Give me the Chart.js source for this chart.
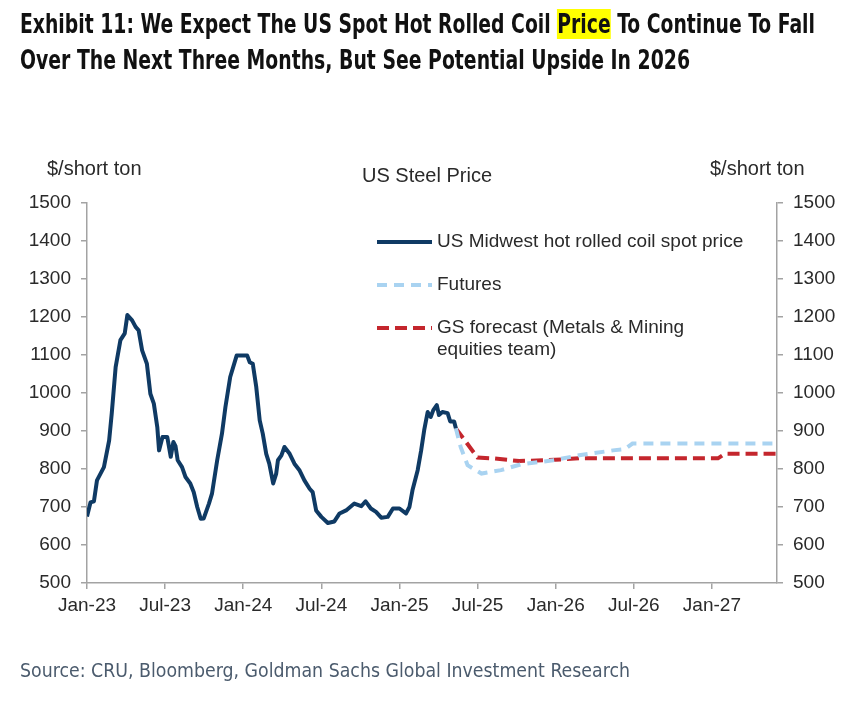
<!DOCTYPE html>
<html>
<head>
<meta charset="utf-8">
<script src="https://cdn.jsdelivr.net/npm/chart.js@4.4.1/dist/chart.umd.min.js"></script>
<style>
  html, body { margin: 0; padding: 0; background: #fff; }
  #wrap { position: relative; width: 848px; height: 703px; overflow: hidden; }
  #wrap canvas { position: absolute; left: 0; top: 0; }
  .txt { position: absolute; white-space: nowrap; transform-origin: 0 50%; }
  .head { font-family: "Liberation Sans Narrow", "DejaVu Sans Condensed", "Open Sans", sans-serif; font-weight: bold; font-size: 26px; color: #111; line-height: 32px; }
  .hl { background: #ffff00; }
  .src { font-family: "Liberation Sans Narrow", "DejaVu Sans Condensed", "Open Sans", sans-serif; font-size: 20px; color: #4b5b6d; line-height: 24px; }
  .lab { font-family: "Liberation Sans", Arial, sans-serif; font-size: 20px; color: #2a2a2a; line-height: 24px; }
</style>
</head>
<body>
<div id="wrap">
  <canvas id="steelChart" width="848" height="703"></canvas>
  <div class="txt head" data-w="795" style="left:20px;top:8px">Exhibit 11: We Expect The US Spot Hot Rolled Coil <span class="hl">Price</span> To Continue To Fall</div>
  <div class="txt head" data-w="670" style="left:20px;top:44px">Over The Next Three Months, But See Potential Upside In 2026</div>
  <div class="txt lab" style="left:47px;top:156px">$/short ton</div>
  <div class="txt lab" style="left:362px;top:163px">US Steel Price</div>
  <div class="txt lab" style="left:710px;top:156px">$/short ton</div>
  <div class="txt src" data-w="610" style="left:20px;top:658px">Source: CRU, Bloomberg, Goldman Sachs Global Investment Research</div>
</div>
<script>
// US Midwest HRC spot price ($/short ton)
const spotDates = [
  "2023-01-01", "2023-01-09", "2023-01-17", "2023-01-24", "2023-02-10", "2023-02-22", "2023-02-28",
  "2023-03-07", "2023-03-18", "2023-03-28", "2023-04-04", "2023-04-15", "2023-04-23", "2023-04-30",
  "2023-05-08", "2023-05-19", "2023-05-27", "2023-06-05", "2023-06-13", "2023-06-17", "2023-06-25",
  "2023-07-06", "2023-07-14", "2023-07-20", "2023-07-25", "2023-07-30", "2023-08-10", "2023-08-18",
  "2023-08-29", "2023-09-07", "2023-09-15", "2023-09-23", "2023-09-30", "2023-10-12", "2023-10-19",
  "2023-11-01", "2023-11-12", "2023-11-20", "2023-12-01", "2023-12-16", "2024-01-10", "2024-01-16",
  "2024-01-23", "2024-02-01", "2024-02-09", "2024-02-16", "2024-02-24", "2024-03-01", "2024-03-10",
  "2024-03-17", "2024-03-21", "2024-03-29", "2024-04-06", "2024-04-18", "2024-04-29", "2024-05-11",
  "2024-05-22", "2024-06-04", "2024-06-11", "2024-06-19", "2024-07-01", "2024-07-16", "2024-08-01",
  "2024-08-13", "2024-08-28", "2024-09-17", "2024-10-03", "2024-10-13", "2024-10-25", "2024-11-07",
  "2024-11-19", "2024-12-04", "2024-12-16", "2025-01-01", "2025-01-16", "2025-01-24", "2025-02-01",
  "2025-02-13", "2025-02-21", "2025-02-28", "2025-03-06", "2025-03-13", "2025-03-19", "2025-03-27",
  "2025-04-02", "2025-04-10", "2025-04-22", "2025-04-28", "2025-05-07", "2025-05-11"
]
const spotValues = [
  675, 712, 715, 770, 805, 875, 946,
  1068, 1139, 1157, 1205, 1191, 1174, 1165,
  1112, 1077, 998, 972, 910, 849, 884,
  884, 832, 871, 860, 823, 805, 779,
  762, 739, 700, 669, 670, 709, 735,
  823, 893, 963, 1042, 1099, 1099, 1081,
  1077, 1016, 928, 893, 840, 814, 762,
  788, 823, 836, 858, 840, 814, 796,
  770, 748, 739, 691, 674, 658, 662,
  683, 691, 709, 702, 715, 696, 687,
  672, 674, 696, 696, 683, 700, 744,
  797, 849, 902, 950, 937, 955, 968,
  942, 950, 947, 925, 925, 907
]

// Futures curve
const futuresDates = [
  "2025-05-11", "2025-05-22", "2025-06-08", "2025-07-10", "2025-08-25", "2025-10-10",
  "2025-12-25", "2026-02-25", "2026-05-13", "2026-06-10", "2026-06-28", "2027-06-01"
]
const futuresValues = [907, 858, 810, 788, 797, 812, 823, 836, 849, 852, 867, 867]

// GS forecast (Metals & Mining equities team)
const forecastDates = [
  "2025-05-11", "2025-07-01", "2025-08-06", "2025-10-07", "2025-12-08",
  "2026-02-25", "2026-07-01", "2027-01-15", "2027-02-01", "2027-06-01"
]
const forecastValues = [907, 830, 828, 821, 823, 828, 828, 828, 840, 840]

const yTicks = [500, 600, 700, 800, 900, 1000, 1100, 1200, 1300, 1400, 1500]
const legendLabels = [
  ["US Midwest hot rolled coil spot price"],
  ["Futures"],
  ["GS forecast (Metals & Mining", "equities team)"],
]

// months since Jan-23
function monthIndex(d) {
  const [y, m, day] = d.split("-").map(Number)
  return (y - 2023) * 12 + (m - 1) + (day - 1) / 30
}

function toPoints(dates, values) {
  return dates.map((d, i) => ({ x: monthIndex(d), y: values[i] }))
}

const AXIS = "#a3a3a3"
const TEXT = "#2a2a2a"
const FONT = { family: "'Liberation Sans', Arial, sans-serif", size: 19 }

// custom legend placed inside the plot, like the original
const legendPlugin = {
  id: "insideLegend",
  afterDraw(chart) {
    const ctx = chart.ctx
    const rows = [242, 285, 328]
    ctx.save()
    ctx.font = "19px 'Liberation Sans', Arial, sans-serif"
    ctx.fillStyle = TEXT
    ctx.textBaseline = "middle"
    chart.data.datasets.forEach((ds, i) => {
      const y = rows[i]
      ctx.beginPath()
      ctx.strokeStyle = ds.borderColor
      ctx.lineWidth = ds.borderWidth
      ctx.setLineDash(ds.borderDash || [])
      ctx.moveTo(377, y)
      ctx.lineTo(432, y)
      ctx.stroke()
      ctx.setLineDash([])
      legendLabels[i].forEach((t, j) => ctx.fillText(t, 437, y + j * 22))
    })
    ctx.restore()
  },
}

const yAxis = (position, width) => ({
  position,
  min: yTicks[0],
  max: yTicks[yTicks.length - 1],
  afterFit: (s) => { s.width = width },
  afterBuildTicks: (s) => { s.ticks = yTicks.map((v) => ({ value: v })) },
  border: { color: AXIS, width: 1.5 },
  grid: { drawOnChartArea: false, tickLength: 6, color: AXIS, lineWidth: 1.5 },
  ticks: { color: TEXT, font: FONT, padding: 10, callback: (v) => String(v) },
})

const ctx = document.getElementById("steelChart").getContext("2d")
new Chart(ctx, {
  type: "line",
  data: {
    datasets: [
      {
        label: "US Midwest hot rolled coil spot price",
        data: toPoints(spotDates, spotValues),
        borderColor: "#0f3a64",
        borderWidth: 4,
        pointRadius: 0,
        tension: 0,
        borderJoinStyle: "round",
      },
      {
        label: "Futures",
        data: toPoints(futuresDates, futuresValues),
        borderColor: "#a9d3f1",
        borderWidth: 4,
        borderDash: [10, 7],
        pointRadius: 0,
        tension: 0,
      },
      {
        label: "GS forecast (Metals & Mining equities team)",
        data: toPoints(forecastDates, forecastValues),
        borderColor: "#c4262d",
        borderWidth: 4,
        borderDash: [12, 6],
        pointRadius: 0,
        tension: 0,
      },
    ],
  },
  options: {
    responsive: false,
    animation: false,
    layout: { padding: { top: 203, bottom: 80, left: 0, right: 0 } },
    plugins: { legend: { display: false }, tooltip: { enabled: false } },
    scales: {
      x: {
        type: "linear",
        min: 0,
        max: 53,
        afterFit: (s) => { s.height = 40 },
        border: { color: AXIS, width: 1.5 },
        grid: { drawOnChartArea: false, drawTicks: true, tickLength: 6, color: AXIS, lineWidth: 1.5 },
        ticks: {
          stepSize: 6,
          includeBounds: false,
          autoSkip: false,
          maxRotation: 0,
          padding: 5,
          color: TEXT,
          font: FONT,
          callback: (v) => (v % 6 === 0 ? (v % 12 === 0 ? "Jan-" : "Jul-") + (23 + Math.floor(v / 12)) : ""),
        },
      },
      y: yAxis("left", 87),
      y2: yAxis("right", 71),
    },
  },
  plugins: [legendPlugin],
})

// squeeze headline/source text to the widths they take in the original
document.querySelectorAll(".txt[data-w]").forEach((el) => {
  const w = el.getBoundingClientRect().width
  const target = Number(el.dataset.w)
  if (w > 0) el.style.transform = `scaleX(${target / w})`
})
</script>
</body>
</html>
